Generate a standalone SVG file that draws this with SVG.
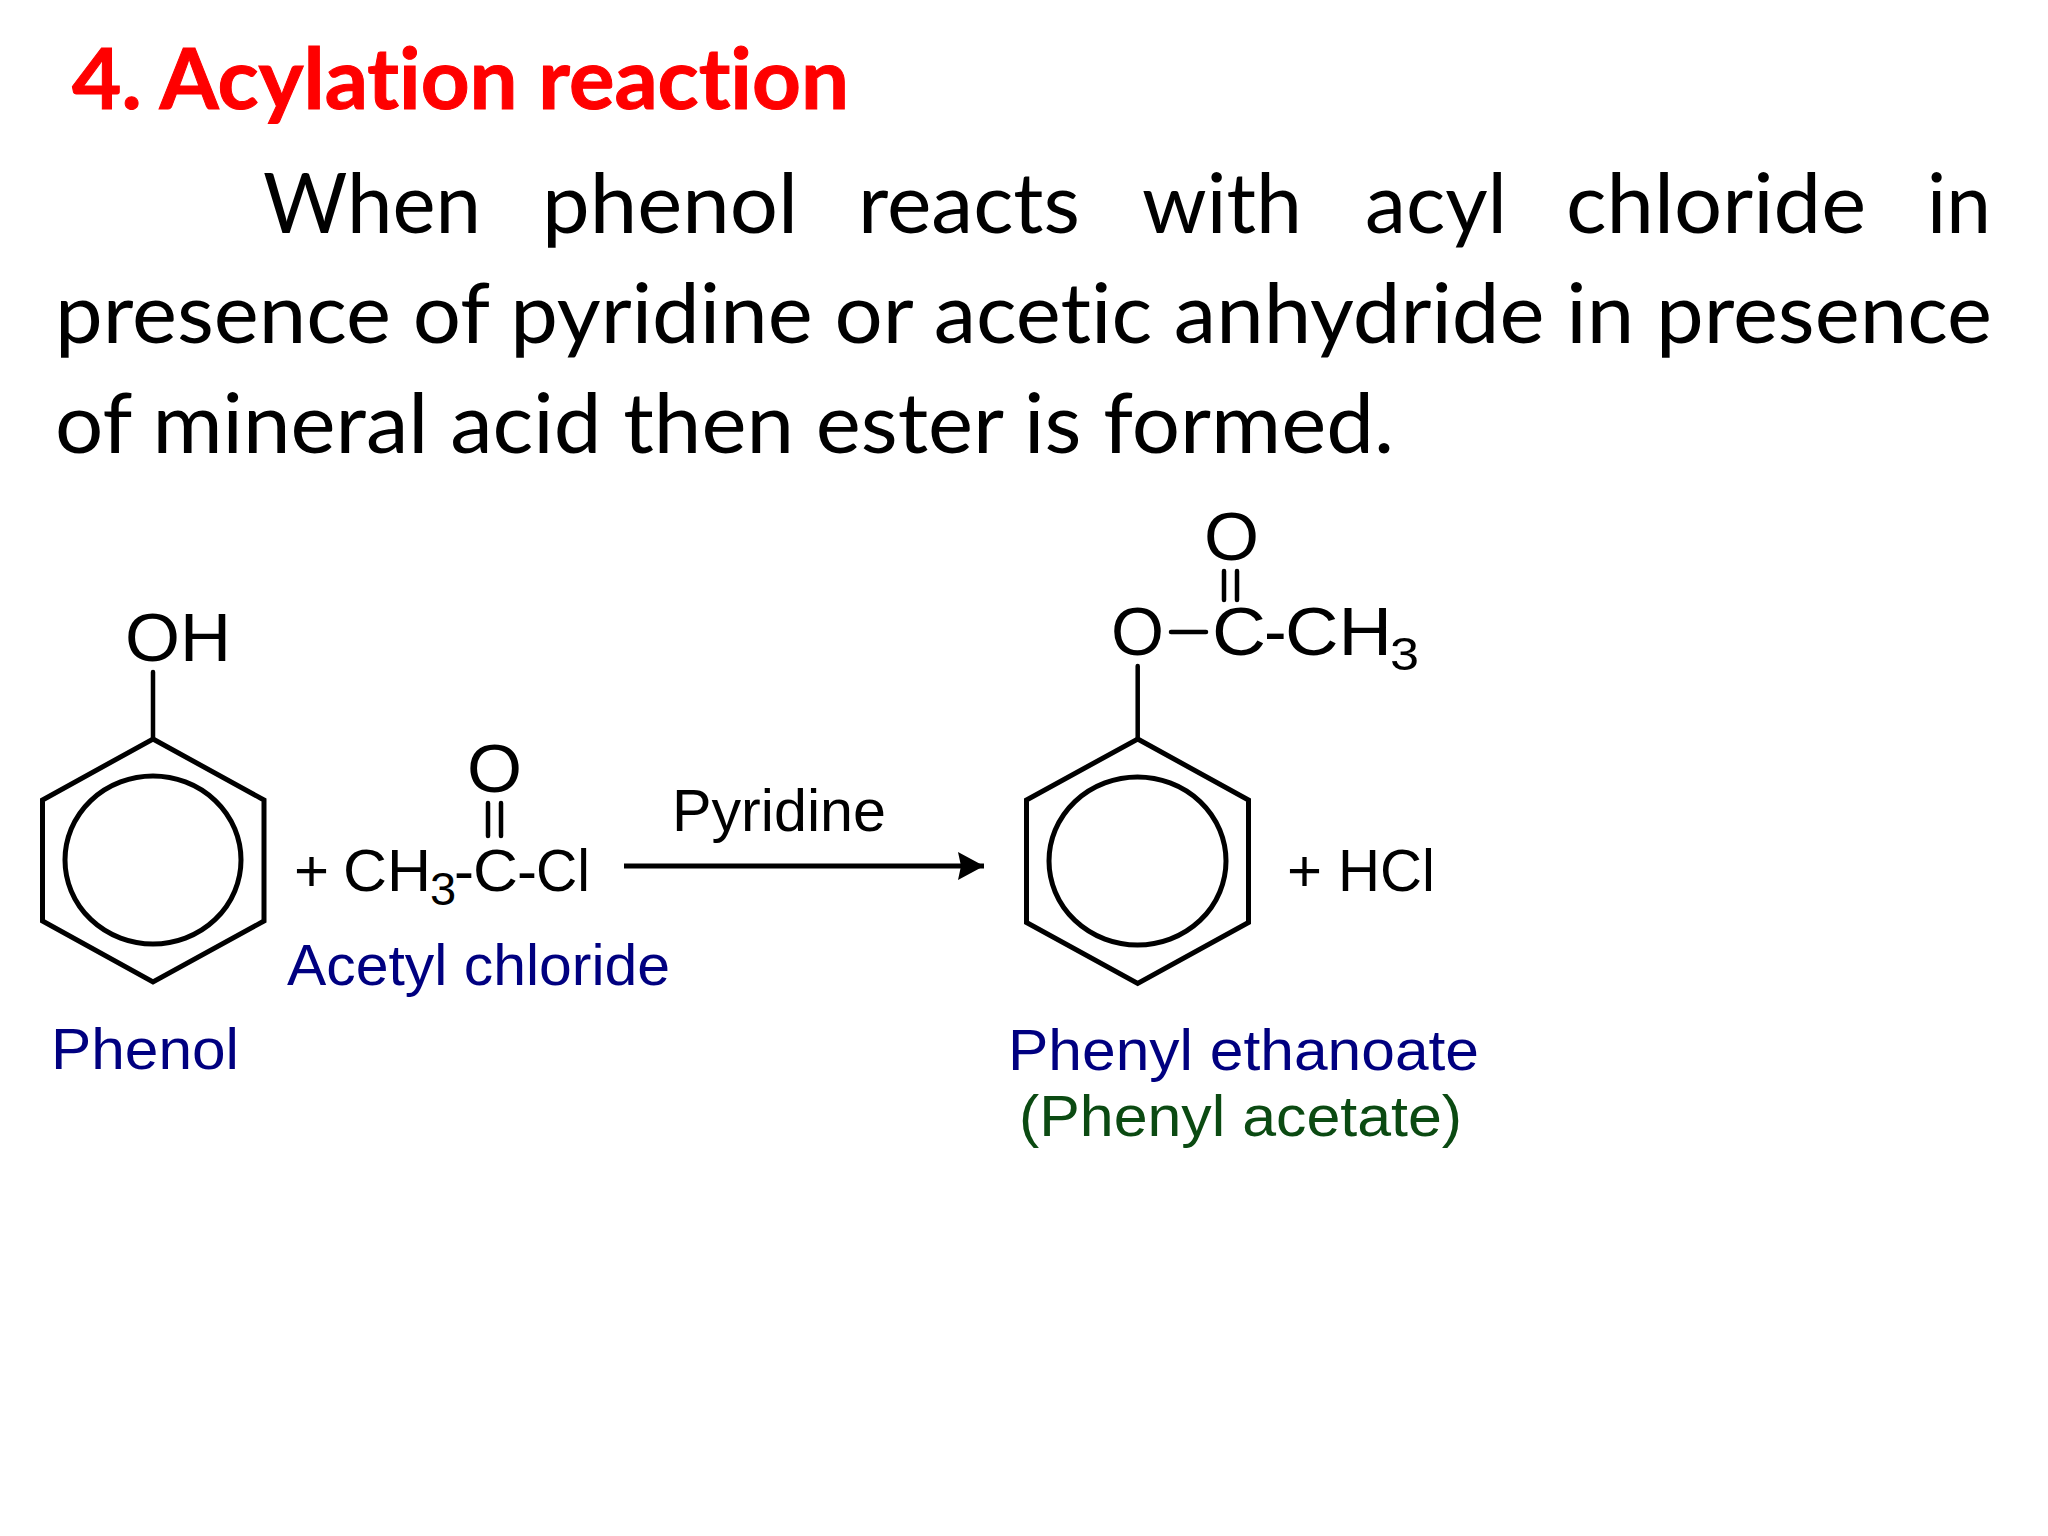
<svg xmlns="http://www.w3.org/2000/svg" width="2048" height="1536" viewBox="0 0 2048 1536">
<style>
text{font-family:"Liberation Sans",Arial,sans-serif;fill:#000}
.c{font-family:Lato,"Open Sans",sans-serif;font-size:84px;font-variant-ligatures:none}
.t{font-weight:700;fill:#f00;stroke:#f00;stroke-width:1}
.f{font-size:68px}
.m{font-size:60px}
.n{font-size:58px;fill:#000080}
.g{font-size:58px;fill:#0b4a12}
.s{font-size:47px}
.b{fill:none;stroke:#000;stroke-width:5}
.l{fill:none;stroke:#000;stroke-width:4.500;stroke-linecap:round}
</style>
<defs>
<marker id="ah" markerUnits="userSpaceOnUse" markerWidth="28" markerHeight="30" refX="26" refY="14" orient="auto"><path d="M0 0L26 14L0 28L3 14Z" fill="#000"/></marker>
</defs>
<rect width="2048" height="1536" fill="#fff"/>
<g id="heading">
<text class="c t" x="72" y="109" textLength="777" lengthAdjust="spacingAndGlyphs">4. Acylation reaction</text>
</g>
<g id="paragraph">
<text class="c" y="233"><tspan x="263" textLength="218" lengthAdjust="spacingAndGlyphs">When</tspan><tspan x="542" textLength="256" lengthAdjust="spacingAndGlyphs">phenol</tspan><tspan x="858" textLength="222" lengthAdjust="spacingAndGlyphs">reacts</tspan><tspan x="1142" textLength="160" lengthAdjust="spacingAndGlyphs">with</tspan><tspan x="1365" textLength="142" lengthAdjust="spacingAndGlyphs">acyl</tspan><tspan x="1566" textLength="300" lengthAdjust="spacingAndGlyphs">chloride</tspan><tspan x="1927" textLength="64" lengthAdjust="spacingAndGlyphs">in</tspan></text>
<text class="c" x="55" y="343" textLength="1937" lengthAdjust="spacingAndGlyphs">presence of pyridine or acetic anhydride in presence</text>
<text class="c" x="55" y="453" textLength="1339" lengthAdjust="spacingAndGlyphs">of mineral acid then ester is formed.</text>
</g>
<g id="phenol">
<path class="b" d="M153 739L264 800V921L153 982L42.500 921V800Z"/>
<ellipse class="b" cx="153" cy="860" rx="88" ry="84"/>
<path class="l" d="M153 672V739"/>
<text class="f" x="125" y="661" textLength="106" lengthAdjust="spacingAndGlyphs">OH</text>
<text class="n" x="51" y="1069" textLength="188" lengthAdjust="spacingAndGlyphs">Phenol</text>
</g>
<g id="acetyl-chloride">
<text class="f" x="467" y="792" textLength="55" lengthAdjust="spacingAndGlyphs">O</text>
<path class="l" d="M488 803V836M501 803V836"/>
<text class="m" x="294" y="891">+</text>
<text class="m" x="343" y="891" textLength="88" lengthAdjust="spacingAndGlyphs">CH</text>
<text class="s" x="430" y="905">3</text>
<text class="m" x="454" y="891">-</text>
<text class="m" x="473" y="891" textLength="45" lengthAdjust="spacingAndGlyphs">C</text>
<text class="m" x="517" y="891">-</text>
<text class="m" x="536" y="891" textLength="54" lengthAdjust="spacingAndGlyphs">Cl</text>
<text class="n" x="287" y="985" textLength="383" lengthAdjust="spacingAndGlyphs">Acetyl chloride</text>
</g>
<g id="connectors">
<path d="M624 866H984" fill="none" stroke="#000" stroke-width="5" marker-end="url(#ah)"/>
<text class="m" x="672" y="831" textLength="214" lengthAdjust="spacingAndGlyphs">Pyridine</text>
</g>
<g id="phenyl-ethanoate">
<path class="b" d="M1137.700 739L1248.500 800V922.500L1137.700 983.500L1026.500 922.500V800Z"/>
<ellipse class="b" cx="1137.500" cy="861" rx="88.500" ry="84"/>
<path class="l" d="M1137.700 666V739"/>
<text class="f" x="1204" y="560" textLength="55" lengthAdjust="spacingAndGlyphs">O</text>
<path class="l" d="M1224 571V600M1237 571V600"/>
<text class="f" x="1111" y="655" textLength="53" lengthAdjust="spacingAndGlyphs">O</text>
<path class="l" d="M1171 632H1206"/>
<text class="f" x="1212" y="655" textLength="54" lengthAdjust="spacingAndGlyphs">C</text>
<text class="f" x="1264" y="655">-</text>
<text class="f" x="1285" y="655" textLength="107" lengthAdjust="spacingAndGlyphs">CH</text>
<text class="s" x="1390" y="670" textLength="29" lengthAdjust="spacingAndGlyphs">3</text>
<text class="n" x="1008" y="1070" textLength="471" lengthAdjust="spacingAndGlyphs">Phenyl ethanoate</text>
<text class="g" x="1019" y="1136" textLength="443" lengthAdjust="spacingAndGlyphs">(Phenyl acetate)</text>
</g>
<g id="hcl">
<text class="m" x="1287" y="891">+</text>
<text class="m" x="1338" y="891" textLength="97" lengthAdjust="spacingAndGlyphs">HCl</text>
</g>
</svg>
